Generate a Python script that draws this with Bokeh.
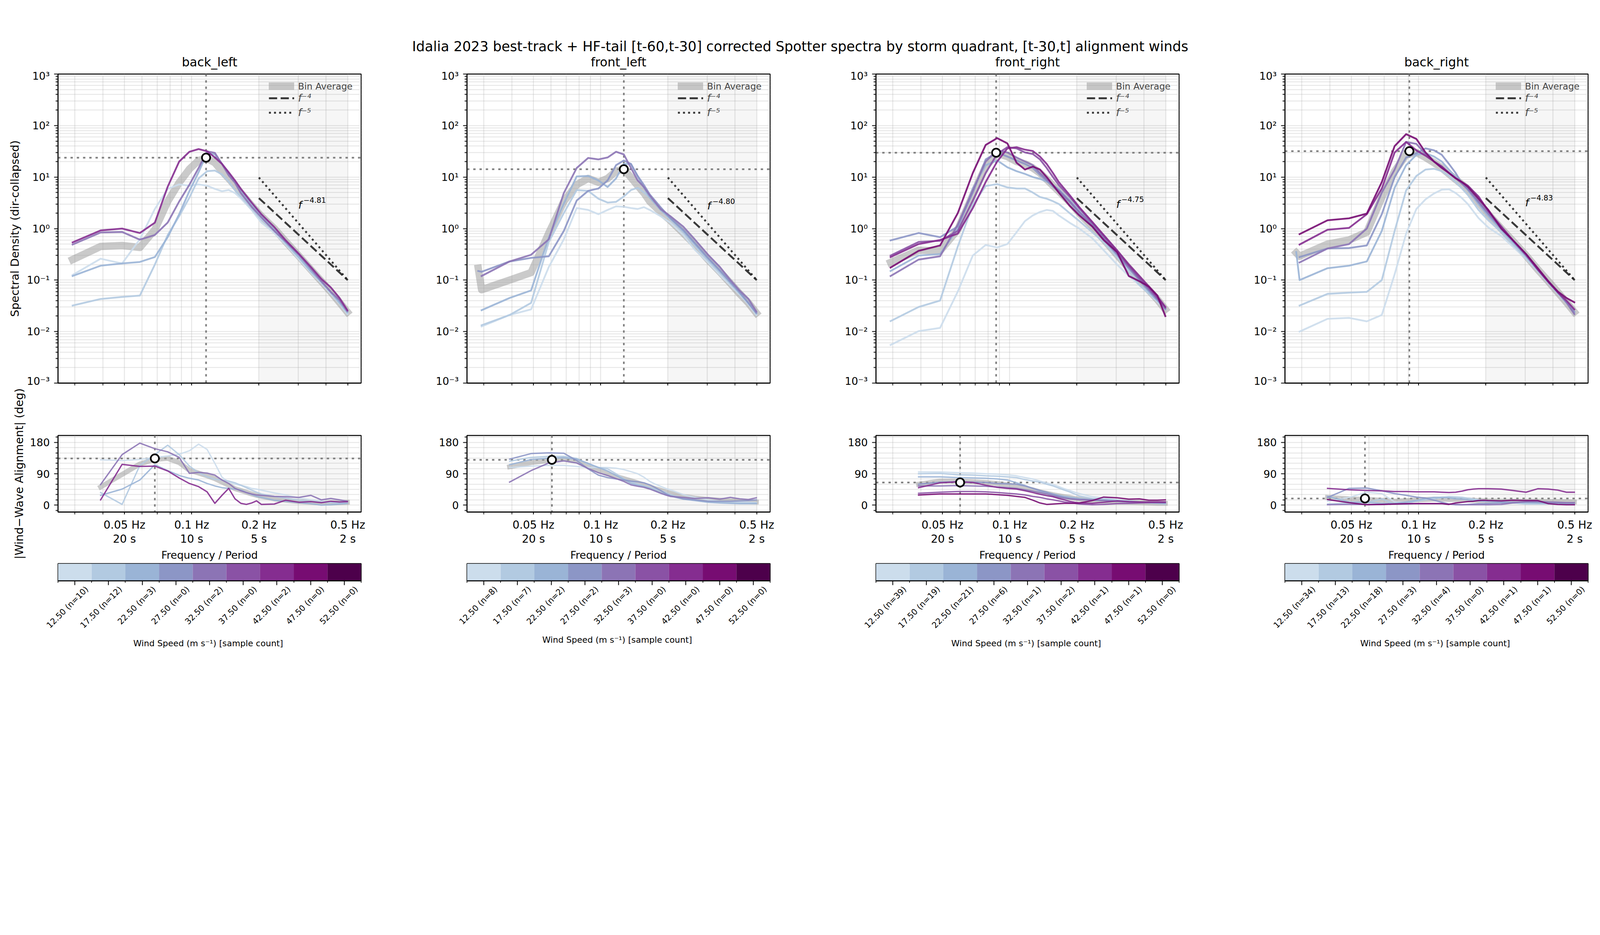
import math
from bokeh.plotting import figure
from bokeh.models import (Range1d, FixedTicker, CustomJSTickFormatter, BoxAnnotation,
                          Span, Legend, LegendItem, Label, LinearAxis)
from bokeh.layouts import column, row
from bokeh.embed import file_html
from bokeh.resources import INLINE
from bokeh.core.properties import value

FONT = "DejaVu Sans"
nan = float("nan")
K = 4096.0 / 5838.0          # css px per screenshot px


def P(v):
    return v * K


def IP(v):
    return int(round(v * K))


def FS(v):
    return "%.1fpx" % (v * K)


SUPTITLE = ("Idalia 2023 best-track + HF-tail [t-60,t-30] corrected Spotter spectra by storm "
            "quadrant, [t-30,t] alignment winds")
QUADRANTS = ["back_left", "front_left", "front_right", "back_right"]

WS_CENTERS = [12.5, 17.5, 22.5, 27.5, 32.5, 37.5, 42.5, 47.5, 52.5]
WS_COLORS = ["#ccddec", "#b2cae1", "#9ab4d6", "#8c96c6", "#8c74b5",
             "#8a52a5", "#852d90", "#770c72", "#4d004b"]
COUNT_BL = [10, 12, 3, 0, 2, 0, 2, 0, 0]
COUNT_FL = [8, 7, 2, 2, 3, 0, 0, 0, 0]
COUNT_FR = [39, 19, 21, 6, 1, 2, 1, 1, 0]
COUNT_BR = [34, 13, 18, 3, 4, 0, 1, 1, 0]

# frequency axes (Hz)
FREQ_SPEC = [0.0283, 0.0293, 0.0391, 0.0488, 0.0586, 0.0684, 0.0781, 0.0879, 0.0977, 0.1074,
             0.1172, 0.1270, 0.1367, 0.1465, 0.1563, 0.1660, 0.1855, 0.2051, 0.2344, 0.2637,
             0.3027, 0.3418, 0.3809, 0.4199, 0.4590, 0.4980]
FREQ_ALIGN = [0.0391, 0.0488, 0.0586, 0.0684, 0.0781, 0.0879, 0.0977, 0.1074, 0.1172, 0.1270,
              0.1367, 0.1465, 0.1563, 0.1660, 0.1758, 0.1855, 0.1953, 0.2051, 0.2344, 0.2637,
              0.3027, 0.3418, 0.3809, 0.4199, 0.4590, 0.4980]

# ---------------- spectra (m^2/Hz) ----------------
SPEC_BL_AVG = [nan, 0.25, 0.45, 0.47, 0.43, 0.95, 3.35, 7.8, 14.3, 21, 23, 19, 13, 9.4, 6.8, 4.9, 2.8, 1.74, 1.0, 0.56, 0.29, 0.16, 0.095, 0.059, 0.037, 0.024]
SPEC_BL_125 = [nan, 0.126, 0.26, 0.21, 0.62, 2.4, 5.9, 7.2, 6.8, 7.2, 6.8, 5.9, 5.3, 5.6, 4.9, 3.85, 2.3, 1.31, 0.82, 0.49, 0.25, 0.14, 0.087, 0.054, 0.035, 0.022]
SPEC_BL_175 = [nan, 0.032, 0.043, 0.047, 0.05, 0.2, 0.75, 1.74, 4.0, 9.4, 13, 13.4, 11.3, 8.2, 5.6, 4.2, 2.5, 1.5, 0.9, 0.51, 0.27, 0.145, 0.09, 0.057, 0.036, 0.023]
SPEC_BL_225 = [nan, 0.12, 0.19, 0.21, 0.225, 0.28, 0.68, 1.9, 5.35, 12.4, 29, 27.5, 18, 11.9, 7.8, 5.35, 2.9, 1.74, 0.95, 0.54, 0.28, 0.15, 0.093, 0.058, 0.037, 0.024]
SPEC_BL_325 = [nan, 0.49, 0.84, 0.86, 0.61, 0.75, 1.31, 3.35, 7.1, 15, 31.7, 29.5, 18, 10.8, 7.8, 4.9, 2.65, 1.66, 0.9, 0.56, 0.31, 0.167, 0.095, 0.059, 0.041, 0.025]
SPEC_BL_425 = [nan, 0.54, 0.92, 1.0, 0.82, 1.3, 6.5, 20, 31, 35, 31.7, 24, 18, 12.4, 8.6, 5.9, 3.2, 1.9, 1.07, 0.59, 0.32, 0.18, 0.105, 0.072, 0.045, 0.026]

SPEC_FL_AVG = [0.17, 0.065, 0.1, 0.14, 0.82, 3.35, 7.1, 9.4, 7.9, 9.4, 13, 14.3, 9.8, 6.8, 4.9, 3.35, 2.1, 1.44, 0.82, 0.49, 0.25, 0.145, 0.087, 0.054, 0.036, 0.023]
SPEC_FL_125 = [nan, 0.0126, 0.021, 0.027, 0.18, 0.62, 2.5, 2.3, 1.9, 2.3, 2.7, 2.65, 2.5, 2.4, 2.6, 2.3, 1.74, 1.3, 0.75, 0.39, 0.22, 0.126, 0.079, 0.052, 0.034, 0.021]
SPEC_FL_175 = [nan, 0.0133, 0.021, 0.036, 0.55, 2.0, 5.6, 5.4, 3.8, 3.2, 3.3, 4.2, 5.6, 6.2, 5.0, 4.0, 2.4, 1.5, 0.85, 0.47, 0.24, 0.14, 0.085, 0.054, 0.035, 0.022]
SPEC_FL_225 = [nan, 0.026, 0.045, 0.063, 0.68, 3.05, 10.3, 10.5, 8.6, 6.4, 9.4, 18, 18, 10.3, 6.2, 4.0, 2.3, 1.58, 0.9, 0.51, 0.26, 0.15, 0.09, 0.056, 0.036, 0.023]
SPEC_FL_275 = [0.15, 0.145, 0.23, 0.27, 0.29, 0.9, 3.5, 5.4, 6.0, 8.6, 17, 21, 18, 10.5, 7.0, 4.6, 2.6, 1.6, 0.95, 0.53, 0.27, 0.155, 0.092, 0.058, 0.036, 0.023]
SPEC_FL_325 = [nan, 0.12, 0.23, 0.31, 0.62, 4.9, 15, 23.5, 22, 24, 31, 27.5, 15, 8.6, 6.4, 4.4, 2.4, 1.74, 1.09, 0.62, 0.31, 0.18, 0.1, 0.062, 0.043, 0.0245]

SPEC_FR_AVG = [nan, 0.22, 0.38, 0.37, 0.95, 4.5, 16, 29, 25, 20, 18, 15, 12, 9, 6.8, 5.3, 3.3, 2.0, 1.1, 0.62, 0.31, 0.17, 0.1, 0.064, 0.042, 0.027]
SPEC_FR_125 = [nan, 0.0055, 0.0102, 0.0118, 0.06, 0.3, 0.48, 0.43, 0.5, 0.85, 1.4, 1.8, 2.1, 2.3, 2.2, 1.8, 1.3, 1.0, 0.65, 0.38, 0.2, 0.12, 0.08, 0.055, 0.038, 0.027]
SPEC_FR_175 = [nan, 0.016, 0.03, 0.04, 0.45, 2.9, 6.7, 7.3, 6.3, 6.0, 6.0, 5.0, 4.1, 3.8, 3.4, 3.0, 2.0, 1.4, 0.85, 0.54, 0.28, 0.15, 0.08, 0.055, 0.04, 0.028]
SPEC_FR_225 = [nan, 0.15, 0.3, 0.32, 1.0, 6.0, 17, 21, 15.5, 13, 11.5, 10, 9.2, 8.2, 7.0, 5.8, 3.6, 2.2, 1.2, 0.66, 0.32, 0.17, 0.1, 0.06, 0.04, 0.027]
SPEC_FR_275 = [nan, 0.59, 0.82, 0.68, 1.1, 5, 22, 30, 25, 21, 18, 15, 11, 8.5, 6.5, 5.2, 3.3, 2.0, 1.1, 0.62, 0.31, 0.17, 0.1, 0.063, 0.042, 0.028]
SPEC_FR_325 = [nan, 0.12, 0.25, 0.29, 1.2, 5.5, 20, 33, 30, 24, 20, 17, 12, 9, 7, 5.5, 3.4, 2.1, 1.2, 0.65, 0.33, 0.18, 0.105, 0.066, 0.043, 0.028]
SPEC_FR_375 = [nan, 0.3, 0.55, 0.58, 0.9, 3.5, 12, 28, 38, 36, 30, 28, 22, 15, 10, 7, 4.2, 2.5, 1.3, 0.72, 0.36, 0.19, 0.11, 0.07, 0.045, 0.03]
SPEC_FR_425 = [nan, 0.28, 0.5, 0.6, 0.8, 2.5, 8, 20, 36, 38, 34, 32, 25, 18, 12, 8, 4.5, 2.6, 1.35, 0.75, 0.38, 0.2, 0.12, 0.075, 0.048, 0.03]
SPEC_FR_475 = [nan, 0.175, 0.37, 0.47, 2.0, 12, 42, 57, 45, 19, 14, 16, 14, 10, 7, 5, 2.8, 1.8, 1.1, 0.6, 0.35, 0.12, 0.095, 0.075, 0.05, 0.02]

SPEC_BR_AVG = [0.34, 0.29, 0.5, 0.6, 0.85, 4.0, 13, 27, 30, 24, 19, 15, 11.5, 9, 7.2, 5.8, 3.2, 1.9, 1.0, 0.58, 0.3, 0.16, 0.095, 0.058, 0.037, 0.024]
SPEC_BR_125 = [nan, 0.01, 0.0177, 0.0185, 0.0158, 0.021, 0.13, 0.8, 2.4, 3.7, 4.8, 5.7, 5.8, 4.9, 3.9, 3.0, 1.6, 1.05, 0.72, 0.45, 0.26, 0.15, 0.09, 0.055, 0.036, 0.024]
SPEC_BR_175 = [nan, 0.032, 0.054, 0.057, 0.059, 0.1, 0.9, 5.5, 10.5, 14, 14.5, 13, 10.5, 8, 6, 4.5, 2.3, 1.45, 0.85, 0.5, 0.27, 0.15, 0.088, 0.055, 0.036, 0.024]
SPEC_BR_225 = [0.35, 0.1, 0.17, 0.19, 0.23, 0.9, 6.2, 17, 27, 29, 25, 20, 14, 10, 7.5, 5.6, 3.0, 1.75, 0.95, 0.55, 0.3, 0.16, 0.092, 0.057, 0.037, 0.024]
SPEC_BR_275 = [nan, 0.28, 0.41, 0.42, 0.47, 1.9, 10, 24, 29, 36, 33, 27, 18, 12, 7.5, 5.8, 3.2, 1.9, 1.0, 0.58, 0.3, 0.16, 0.095, 0.058, 0.037, 0.024]
SPEC_BR_325 = [nan, 0.22, 0.41, 0.5, 1.0, 5.0, 14, 48, 44, 28, 20, 16, 12, 9.5, 7.5, 6, 3.4, 2.0, 1.05, 0.6, 0.3, 0.16, 0.095, 0.058, 0.037, 0.022]
SPEC_BR_425 = [nan, 0.49, 0.95, 1.03, 1.9, 6.0, 30, 48, 33, 26, 20, 16, 12, 9.5, 8, 6.8, 4.2, 2.2, 1.1, 0.6, 0.32, 0.16, 0.092, 0.058, 0.04, 0.027]
SPEC_BR_475 = [nan, 0.78, 1.45, 1.58, 1.95, 8.0, 40, 68, 55, 30, 20, 15, 12, 9.5, 8, 6.5, 3.8, 2.3, 1.0, 0.6, 0.32, 0.17, 0.095, 0.06, 0.045, 0.037]

# ---------------- |wind - wave| alignment (deg) ----------------
ALIGN_BL_AVG = [52, 88, 118, 131, 134, 122, 100, 92, 84, 76, 66, 57, 47, 42, 37, 32, 28, 25, 18, 14, 10, 8, 6, 6, 7, 8]
ALIGN_BL_125 = [130, 128, 131, 137, 141, 146, 156, 175, 160, 120, 80, 66, 60, 57, 53, 48, 46, 43, 35, 29, 20, 15, 12, 9, 7, 6]
ALIGN_BL_175 = [36, 2, 114, 145, 172, 145, 112, 93, 81, 74, 72, 69, 64, 57, 50, 43, 37, 32, 25, 20, 14, 10, 8, 7, 6, 6]
ALIGN_BL_225 = [28, 46, 72, 116, 99, 85, 77, 72, 62, 55, 50, 48, 46, 44, 36, 30, 25, 22, 14, 11, 7, 4, 0, 1, 3, 5]
ALIGN_BL_325 = [59, 145, 178, 162, 153, 137, 91, 94, 92, 86, 72, 62, 48, 41, 36, 32, 29, 28, 25, 24, 22, 28, 15, 19, 15, 11]
ALIGN_BL_425 = [15, 117, 111, 112, 98, 78, 62, 53, 38, 5, 28, 48, 18, 5, 2, 6, 12, 2, 3, 14, 8, 10, 7, 11, 9, 10]

ALIGN_FL_AVG = [110, 122, 128, 132, 126, 113, 100, 90, 82, 76, 70, 64, 58, 52, 47, 43, 38, 34, 25, 20, 16, 14, 12, 11, 10, 9]
ALIGN_FL_125 = [108, 112, 114, 114, 111, 108, 108, 108, 106, 102, 96, 90, 80, 68, 60, 54, 48, 44, 30, 22, 15, 11, 10, 9, 8, 7]
ALIGN_FL_175 = [126, 137, 140, 140, 134, 118, 108, 104, 90, 75, 67, 60, 55, 50, 46, 42, 36, 30, 20, 15, 10, 8, 7, 6, 6, 6]
ALIGN_FL_225 = [116, 131, 135, 136, 132, 120, 108, 98, 85, 74, 62, 57, 53, 48, 42, 36, 30, 26, 17, 13, 8, 6, 5, 4, 4, 4]
ALIGN_FL_275 = [132, 148, 150, 149, 128, 104, 86, 79, 75, 72, 69, 67, 64, 58, 50, 42, 33, 27, 18, 15, 11, 11, 11, 12, 13, 15]
ALIGN_FL_325 = [66, 99, 121, 127, 121, 105, 93, 85, 76, 68, 58, 54, 51, 46, 40, 34, 29, 25, 22, 19, 21, 17, 22, 18, 16, 21]

ALIGN_FR_AVG = [60, 69, 69, 67, 65, 62, 58, 54, 48, 44, 38, 34, 30, 27, 24, 22, 19, 17, 13, 11, 9, 8, 7, 6, 5, 5]
ALIGN_FR_125 = [95, 95, 93, 92, 90, 89, 87, 84, 79, 75, 69, 64, 59, 53, 47, 42, 37, 33, 24, 20, 15, 12, 9, 7, 6, 4]
ALIGN_FR_175 = [90, 91, 87, 86, 84, 83, 81, 79, 73, 69, 66, 60, 55, 49, 43, 38, 32, 26, 19, 17, 14, 11, 9, 6, 5, 3]
ALIGN_FR_225 = [81, 81, 79, 78, 77, 75, 72, 64, 56, 48, 40, 36, 32, 28, 25, 23, 21, 19, 16, 15, 13, 11, 9, 7, 6, 5]
ALIGN_FR_275 = [60, 66, 67, 66, 65, 62, 61, 60, 55, 48, 42, 37, 31, 26, 22, 19, 17, 16, 14, 13, 11, 9, 8, 7, 6, 6]
ALIGN_FR_325 = [55, 55, 56, 55, 54, 52, 50, 48, 44, 40, 36, 32, 27, 23, 20, 18, 17, 16, 15, 13, 11, 9, 8, 8, 7, 7]
ALIGN_FR_375 = [34, 37, 39, 39, 38, 36, 34, 32, 29, 25, 22, 18, 15, 12, 9, 7, 5, 3, 1, 2, 4, 5, 6, 7, 8, 8]
ALIGN_FR_425 = [50, 64, 67, 65, 57, 51, 48, 46, 41, 36, 31, 27, 24, 19, 15, 11, 8, 6, 5, 8, 12, 10, 9, 9, 9, 9]
ALIGN_FR_475 = [29, 32, 32, 32, 32, 30, 28, 25, 22, 14, 6, 2, 3, 4, 5, 5, 5, 6, 13, 23, 21, 17, 18, 14, 14, 15]

ALIGN_BR_AVG = [22, 18, 16, 14, 11, 13, 15, 16, 17, 17, 16, 16, 16, 15, 14, 13, 13, 12, 11, 11, 11, 11, 10, 10, 10, 9]
ALIGN_BR_125 = [11, 22, 37, 33, 9, 8, 13, 18, 21, 23, 25, 24, 23, 20, 18, 15, 13, 12, 9, 7, 5, 5, 5, 6, 6, 6]
ALIGN_BR_175 = [3, 6, 7, 18, 3, 5, 11, 15, 18, 21, 23, 22, 21, 19, 17, 15, 13, 12, 9, 6, 3, 3, 3, 4, 5, 5]
ALIGN_BR_225 = [25, 9, 8, 5, 5, 9, 13, 19, 22, 22, 21, 18, 17, 15, 14, 12, 11, 11, 9, 8, 7, 6, 5, 5, 4, 4]
ALIGN_BR_275 = [22, 48, 49, 41, 33, 28, 23, 20, 14, 8, 3, 1, 1, 2, 3, 4, 4, 5, 6, 8, 9, 8, 8, 7, 6, 6]
ALIGN_BR_325 = [1, 2, 2, 2, 3, 3, 4, 4, 4, 4, 3, 2, 1, 1, 1, 1, 1, 1, 2, 6, 10, 11, 9, 8, 7, 7]
ALIGN_BR_425 = [48, 44, 42, 41, 39, 39, 38, 38, 38, 37, 36, 37, 40, 44, 46, 47, 47, 47, 46, 42, 37, 47, 46, 43, 37, 37]
ALIGN_BR_475 = [16, 7, 1, 2, 3, 4, 4, 4, 4, 4, 2, 6, 8, 10, 11, 13, 14, 13, 12, 14, 13, 13, 4, 2, 1, 1]

# peaks
PEAK_SPEC_F = [0.116, 0.127, 0.087, 0.0909]
PEAK_SPEC_E = [23.8, 14.2, 29.7, 31.8]
PEAK_ALIGN_F = [0.0684, 0.0605, 0.0600, 0.0575]
PEAK_ALIGN_D = [134, 130, 65, 19]

# fitted tail exponent labels and reference slopes
SLOPE_TEXT = ["\u22124.81", "\u22124.80", "\u22124.75", "\u22124.83"]
SLOPE_TEXT_F = [0.30, 0.30, 0.30, 0.30]
SLOPE_TEXT_E = [2.9, 2.78, 3.0, 3.2]
REF_F = [0.2, 0.5]
REF4_E = [3.9, 0.1]
REF5_E = [9.8, 0.1]
HF_BAND = [0.2, 0.5]

XLIM = [0.0252, 0.574]
X_TICKS = [0.05, 0.1, 0.2, 0.5]
X_TICK_LABELS = ["0.05 Hz\n20 s", "0.1 Hz\n10 s", "0.2 Hz\n5 s", "0.5 Hz\n2 s"]
X_MINOR = [0.03, 0.04, 0.06, 0.07, 0.08, 0.09, 0.3, 0.4]
Y_SPEC_TICKS = [1e-3, 1e-2, 1e-1, 1e0, 1e1, 1e2, 1e3]
Y_SPEC_LABELS = ["10\u207b\u00b3", "10\u207b\u00b2", "10\u207b\u00b9", "10\u2070", "10\u00b9", "10\u00b2", "10\u00b3"]
Y_ALIGN_TICKS = [0, 90, 180]
Y_ALIGN_LABELS = ["0", "90", "180"]
Y_ALIGN_MINOR = [-15, 15, 30, 45, 60, 75, 105, 120, 135, 150, 165, 195]

SPEC = [
    (SPEC_BL_AVG, {12.5: SPEC_BL_125, 17.5: SPEC_BL_175, 22.5: SPEC_BL_225, 32.5: SPEC_BL_325, 42.5: SPEC_BL_425}),
    (SPEC_FL_AVG, {12.5: SPEC_FL_125, 17.5: SPEC_FL_175, 22.5: SPEC_FL_225, 27.5: SPEC_FL_275, 32.5: SPEC_FL_325}),
    (SPEC_FR_AVG, {12.5: SPEC_FR_125, 17.5: SPEC_FR_175, 22.5: SPEC_FR_225, 27.5: SPEC_FR_275, 32.5: SPEC_FR_325,
                   37.5: SPEC_FR_375, 42.5: SPEC_FR_425, 47.5: SPEC_FR_475}),
    (SPEC_BR_AVG, {12.5: SPEC_BR_125, 17.5: SPEC_BR_175, 22.5: SPEC_BR_225, 27.5: SPEC_BR_275, 32.5: SPEC_BR_325,
                   42.5: SPEC_BR_425, 47.5: SPEC_BR_475}),
]
ALIGN = [
    (ALIGN_BL_AVG, {12.5: ALIGN_BL_125, 17.5: ALIGN_BL_175, 22.5: ALIGN_BL_225, 32.5: ALIGN_BL_325, 42.5: ALIGN_BL_425}),
    (ALIGN_FL_AVG, {12.5: ALIGN_FL_125, 17.5: ALIGN_FL_175, 22.5: ALIGN_FL_225, 27.5: ALIGN_FL_275, 32.5: ALIGN_FL_325}),
    (ALIGN_FR_AVG, {12.5: ALIGN_FR_125, 17.5: ALIGN_FR_175, 22.5: ALIGN_FR_225, 27.5: ALIGN_FR_275, 32.5: ALIGN_FR_325,
                    37.5: ALIGN_FR_375, 42.5: ALIGN_FR_425, 47.5: ALIGN_FR_475}),
    (ALIGN_BR_AVG, {12.5: ALIGN_BR_125, 17.5: ALIGN_BR_175, 22.5: ALIGN_BR_225, 27.5: ALIGN_BR_275, 32.5: ALIGN_BR_325,
                    42.5: ALIGN_BR_425, 47.5: ALIGN_BR_475}),
]
COUNTS = [COUNT_BL, COUNT_FL, COUNT_FR, COUNT_BR]

# ---------------- layout (css px) ----------------
HEADER_H = 178
FRAME_W = 776
COL_L = 148
COL_R = [123, 123, 123, 20]
COL_W = [COL_L + FRAME_W + r for r in COL_R]
TOTAL_W = sum(COL_W)
TOP_T, TOP_F, TOP_B = 11, 791, 10
BOT_T, BOT_F, BOT_B = 124, 198, 126
CB_T, CB_F, CB_B = 4, 44, 185
CB_LABEL_SHIFT = 1.8      # rotated labels centred under their ticks

GRID_C = "#b0b0b0"
GRID_A = 0.35


def fmt_lookup(ticks, labels, log=False):
    if log:
        code = ("for (let i = 0; i < t.length; i++) { if (Math.abs(Math.log10(tick) - Math.log10(t[i])) < 1e-6) "
                "return l[i]; } return '';")
    else:
        code = ("for (let i = 0; i < t.length; i++) { if (Math.abs(tick - t[i]) < 1e-6) return l[i]; } return '';")
    return CustomJSTickFormatter(args=dict(t=ticks, l=labels), code=code)


def style_axis(ax, tick_size):
    ax.axis_line_color = "black"
    ax.axis_line_width = P(3.3)
    ax.major_tick_line_color = "black"
    ax.major_tick_line_width = P(3)
    ax.minor_tick_line_color = "black"
    ax.minor_tick_line_width = P(2.5)
    ax.major_tick_in = 0
    ax.minor_tick_in = 0
    ax.major_tick_out = IP(14)
    ax.minor_tick_out = IP(8)
    ax.major_label_text_font = FONT
    ax.major_label_text_font_size = tick_size
    ax.major_label_text_color = "black"
    ax.axis_label_text_font = FONT
    ax.axis_label_text_font_style = "normal"
    ax.axis_label_text_color = "black"


def style_grid(p):
    for g in (p.xgrid, p.ygrid):
        g.grid_line_color = GRID_C
        g.grid_line_alpha = GRID_A
        g.grid_line_width = P(3)
        g.minor_grid_line_color = GRID_C
        g.minor_grid_line_alpha = GRID_A
        g.minor_grid_line_width = P(3)


def base(p):
    p.outline_line_color = "black"
    p.outline_line_width = P(3.3)
    p.outline_line_alpha = 1
    p.background_fill_color = "white"
    p.border_fill_color = "white"
    style_grid(p)
    p.add_layout(BoxAnnotation(left=HF_BAND[0], right=HF_BAND[1], fill_color="black", fill_alpha=0.035,
                               line_color=None, level="underlay"))


def make_top(qi):
    p = figure(width=COL_W[qi], height=TOP_T + TOP_F + TOP_B, x_axis_type="log", y_axis_type="log",
               x_range=Range1d(XLIM[0], XLIM[1]), y_range=Range1d(1e-3, 1e3),
               output_backend="svg", toolbar_location=None,
               min_border_left=COL_L, min_border_right=COL_R[qi],
               min_border_top=TOP_T, min_border_bottom=TOP_B)
    base(p)
    p.xaxis.ticker = FixedTicker(ticks=X_TICKS, minor_ticks=X_MINOR)
    p.xaxis.formatter = CustomJSTickFormatter(code="return '';")
    p.yaxis.ticker = FixedTicker(ticks=Y_SPEC_TICKS,
                                 minor_ticks=[m * 10.0 ** e for e in range(-3, 3) for m in range(2, 10)])
    p.yaxis.formatter = fmt_lookup(Y_SPEC_TICKS, Y_SPEC_LABELS, log=True)
    style_axis(p.xaxis[0], "1px")
    p.xaxis.major_tick_out = IP(9)
    p.xaxis.major_label_standoff = 0
    style_axis(p.yaxis[0], FS(38))
    p.yaxis.major_label_standoff = IP(15)
    if qi == 0:
        p.yaxis.axis_label = "Spectral Density (dir-collapsed)"
        p.yaxis.axis_label_text_font_size = FS(41)
        p.yaxis.axis_label_standoff = IP(16)

    avg, curves = SPEC[qi]
    p.add_layout(Span(location=PEAK_SPEC_F[qi], dimension="height", line_color="#7f7f7f", line_width=P(6),
                      line_dash="6 10", level="underlay"))
    p.add_layout(Span(location=PEAK_SPEC_E[qi], dimension="width", line_color="#7f7f7f", line_width=P(6),
                      line_dash="6 10", level="underlay"))
    r_avg = p.line(FREQ_SPEC, avg, line_color="#9e9e9e", line_alpha=0.55, line_width=P(27),
                   line_join="round", line_cap="square")
    for ws, vals in curves.items():
        c = WS_COLORS[WS_CENTERS.index(ws)]
        p.line(FREQ_SPEC, vals, line_color=c, line_alpha=0.9, line_width=P(6.5),
               line_join="round", line_cap="square")
    r4 = p.line(REF_F, REF4_E, line_color="#262626", line_alpha=0.9, line_width=P(7), line_dash="21 9")
    r5 = p.line(REF_F, REF5_E, line_color="#262626", line_alpha=0.9, line_width=P(7), line_dash="5 8")
    p.scatter([PEAK_SPEC_F[qi]], [PEAK_SPEC_E[qi]], size=P(30), fill_color="white", line_color="black",
              line_width=P(6))
    p.text([SLOPE_TEXT_F[qi]], [SLOPE_TEXT_E[qi]], text=["f"], text_font=value(FONT),
           text_font_style="italic", text_font_size=FS(38), text_align="left",
           text_baseline="alphabetic", text_color="black")
    p.text([SLOPE_TEXT_F[qi]], [SLOPE_TEXT_E[qi]], text=[SLOPE_TEXT[qi]], text_font=value(FONT),
           text_font_size=FS(27), text_align="left", text_baseline="alphabetic", text_color="black",
           x_offset=P(19), y_offset=-P(17))

    common = dict(label_text_font=FONT, glyph_width=IP(93),
                  glyph_height=IP(40), label_standoff=IP(14), padding=0,
                  spacing=IP(10), margin=0, border_line_color=None,
                  background_fill_alpha=0, label_height=IP(40))
    leg_a = Legend(items=[LegendItem(label="Bin Average", renderers=[r_avg])],
                   location=(540, TOP_F - 45), label_text_font_size=FS(33), **common)
    leg_b = Legend(items=[LegendItem(label="f\u207b\u2074", renderers=[r4]),
                          LegendItem(label="f\u207b\u2075", renderers=[r5])],
                   location=(540, TOP_F - 114), label_text_font_style="italic",
                   label_text_font_size=FS(37), **common)
    p.add_layout(leg_a)
    p.add_layout(leg_b)
    return p


def make_bottom(qi):
    p = figure(width=COL_W[qi], height=BOT_T + BOT_F + BOT_B, x_axis_type="log",
               x_range=Range1d(XLIM[0], XLIM[1]), y_range=Range1d(-20, 200),
               output_backend="svg", toolbar_location=None,
               min_border_left=COL_L, min_border_right=COL_R[qi],
               min_border_top=BOT_T, min_border_bottom=BOT_B)
    base(p)
    p.xaxis.ticker = FixedTicker(ticks=X_TICKS, minor_ticks=X_MINOR)
    p.xaxis.formatter = fmt_lookup(X_TICKS, X_TICK_LABELS, log=True)
    p.yaxis.ticker = FixedTicker(ticks=Y_ALIGN_TICKS, minor_ticks=Y_ALIGN_MINOR)
    p.yaxis.formatter = fmt_lookup(Y_ALIGN_TICKS, Y_ALIGN_LABELS)
    style_axis(p.xaxis[0], FS(40))
    p.xaxis.major_tick_out = IP(9)
    p.xaxis.major_label_standoff = IP(14)
    p.xaxis.major_label_text_line_height = 1.1
    p.xaxis.axis_label = "Frequency / Period"
    p.xaxis.axis_label_text_font_size = FS(38)
    p.xaxis.axis_label_standoff = IP(9)
    style_axis(p.yaxis[0], FS(38))
    p.yaxis.major_label_standoff = IP(15)
    if qi == 0:
        p.yaxis.axis_label = "|Wind\u2212Wave Alignment| (deg)"
        p.yaxis.axis_label_text_font_size = FS(41)
        p.yaxis.axis_label_standoff = IP(12)

    avg, curves = ALIGN[qi]
    p.add_layout(Span(location=PEAK_ALIGN_F[qi], dimension="height", line_color="#7f7f7f", line_width=P(6),
                      line_dash="6 10", level="underlay"))
    p.add_layout(Span(location=PEAK_ALIGN_D[qi], dimension="width", line_color="#7f7f7f", line_width=P(6),
                      line_dash="6 10", level="underlay"))
    p.line(FREQ_ALIGN, avg, line_color="#9e9e9e", line_alpha=0.55, line_width=P(18),
           line_join="round", line_cap="square")
    for ws, vals in curves.items():
        c = WS_COLORS[WS_CENTERS.index(ws)]
        p.line(FREQ_ALIGN, vals, line_color=c, line_alpha=0.9, line_width=P(5),
               line_join="round", line_cap="square")
    p.scatter([PEAK_ALIGN_F[qi]], [PEAK_ALIGN_D[qi]], size=P(30), fill_color="white", line_color="black",
              line_width=P(6))
    return p


def make_cbar(qi):
    p = figure(width=COL_W[qi], height=CB_T + CB_F + CB_B, x_range=Range1d(10, 55), y_range=Range1d(0, 1),
               output_backend="svg", toolbar_location=None, y_axis_location=None,
               min_border_left=COL_L, min_border_right=COL_R[qi],
               min_border_top=CB_T, min_border_bottom=CB_B)
    p.outline_line_color = "black"
    p.outline_line_width = P(3.3)
    p.xgrid.visible = False
    p.ygrid.visible = False
    p.quad(left=[c - 2.5 for c in WS_CENTERS], right=[c + 2.5 for c in WS_CENTERS], bottom=0, top=1,
           fill_color=WS_COLORS, line_color=None)
    # tick marks (centres major, bin edges minor)
    p.xaxis.ticker = FixedTicker(ticks=WS_CENTERS, minor_ticks=[c - 2.5 for c in WS_CENTERS] + [55])
    p.xaxis.formatter = CustomJSTickFormatter(code="return '';")
    style_axis(p.xaxis[0], "1px")
    p.xaxis.major_tick_out = IP(16)
    p.xaxis.minor_tick_out = IP(7)
    p.xaxis.major_label_standoff = 0
    # rotated labels, centred under the ticks
    labels = ["%.2f (n=%d)" % (c, n) for c, n in zip(WS_CENTERS, COUNTS[qi])]
    lab_ticks = [c + CB_LABEL_SHIFT for c in WS_CENTERS]
    ax2 = LinearAxis(ticker=FixedTicker(ticks=lab_ticks, minor_ticks=[]),
                     formatter=fmt_lookup(lab_ticks, labels))
    style_axis(ax2, FS(30))
    ax2.axis_line_color = None
    ax2.major_tick_line_color = None
    ax2.minor_tick_line_color = None
    ax2.major_tick_out = 0
    ax2.minor_tick_out = 0
    ax2.major_label_orientation = math.pi / 4
    ax2.major_label_standoff = IP(10)
    ax2.axis_label = "Wind Speed (m s\u207b\u00b9)  [sample count]"
    ax2.axis_label_text_font_size = FS(31)
    ax2.axis_label_standoff = IP(14)
    p.add_layout(ax2, "below")
    return p


header = figure(width=TOTAL_W, height=HEADER_H, x_range=Range1d(0, TOTAL_W), y_range=Range1d(0, HEADER_H),
                output_backend="svg", toolbar_location=None, x_axis_location=None, y_axis_location=None,
                min_border=0)
header.outline_line_color = None
header.xgrid.visible = False
header.ygrid.visible = False
header.add_layout(Label(x=P(2919), y=HEADER_H - P(168), text=SUPTITLE, text_align="center",
                        text_baseline="middle", text_font=FONT, text_font_size=FS(50), text_color="black"))
x0 = 0
for i, q in enumerate(QUADRANTS):
    header.add_layout(Label(x=x0 + COL_L + FRAME_W / 2.0, y=HEADER_H - P(226), text=q, text_align="center",
                            text_baseline="middle", text_font=FONT, text_font_size=FS(45),
                            text_color="black"))
    x0 += COL_W[i]

cols = [column(make_top(i), make_bottom(i), make_cbar(i)) for i in range(4)]
layout = column(header, row(*cols))

open("out.html", "w").write(file_html(layout, INLINE))
